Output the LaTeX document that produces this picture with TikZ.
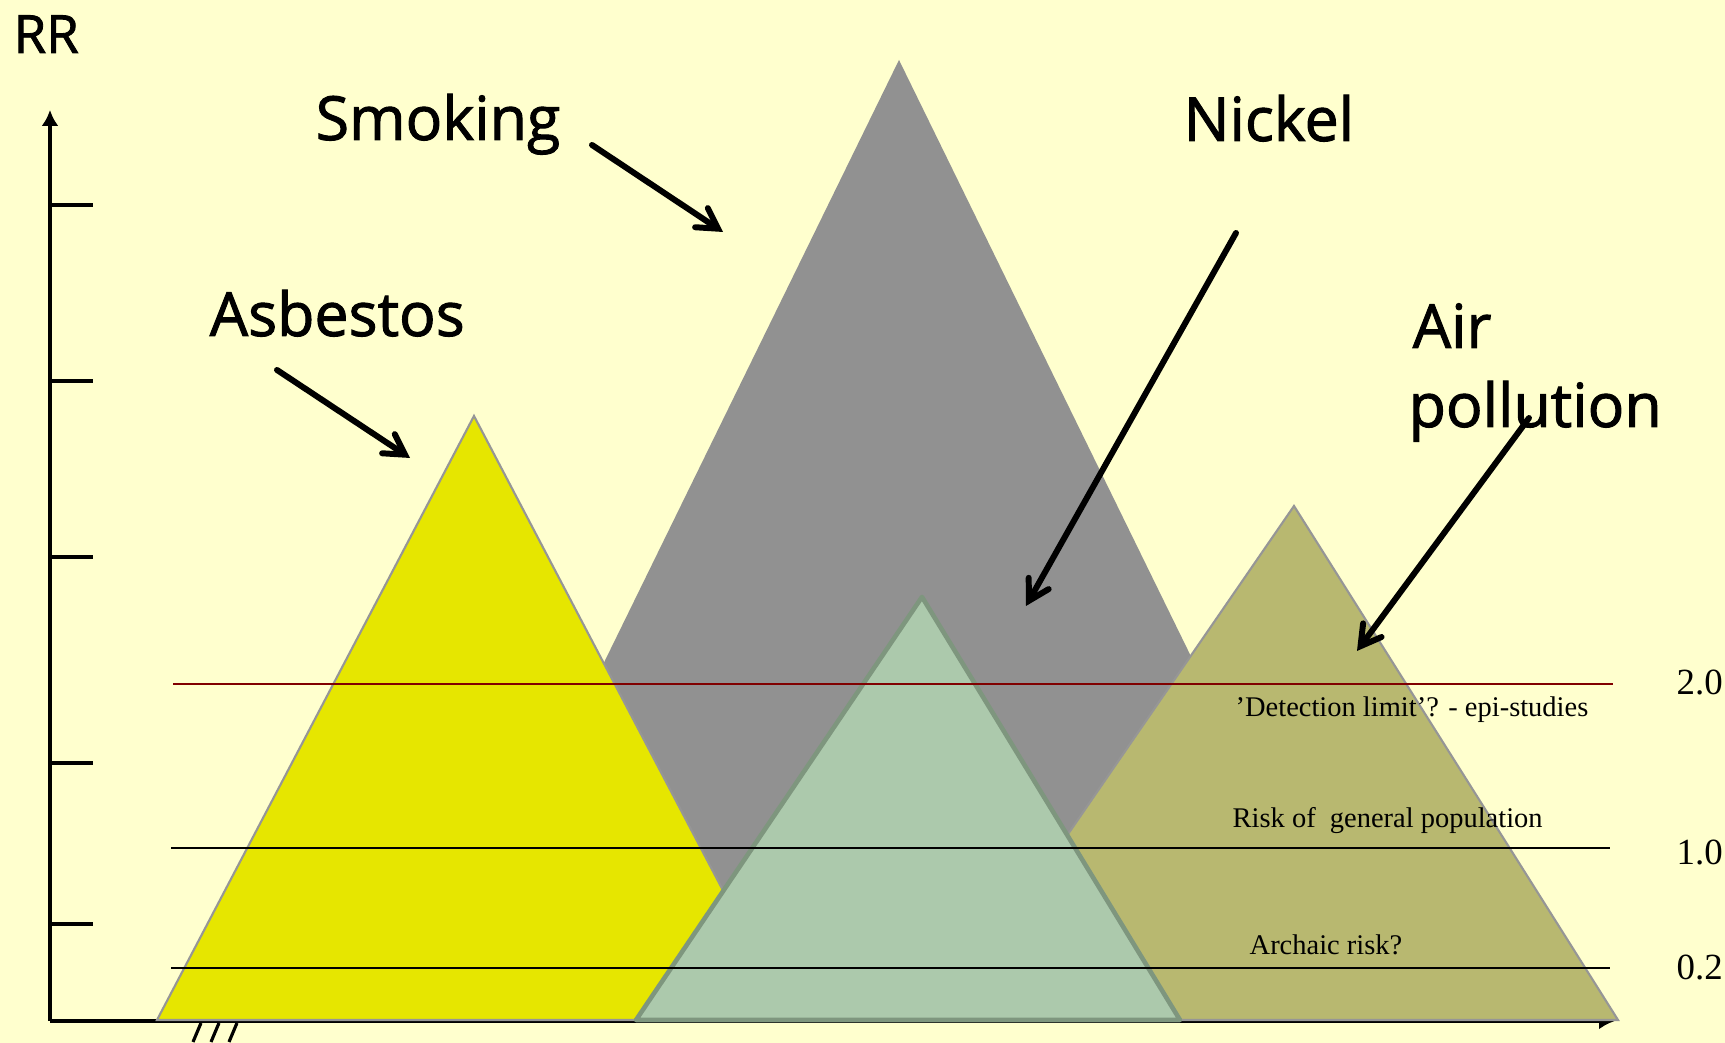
\documentclass[tikz,border=0pt]{standalone}
\usepackage{fontspec}
\setmainfont{Liberation Serif}
\newfontfamily\handfont[FakeBold=1.6]{Open Sans}
\usetikzlibrary{arrows}
\usetikzlibrary{arrows.meta}
\usetikzlibrary{calc}
\definecolor{paper}{RGB}{255,255,206}
\definecolor{asbyellow}{RGB}{230,230,0}
\definecolor{smkgray}{RGB}{145,145,145}
\definecolor{nickgreen}{RGB}{172,201,172}
\definecolor{nickedge}{RGB}{126,150,126}
\definecolor{airolive}{RGB}{184,184,112}
\definecolor{triedge}{RGB}{150,150,150}
\definecolor{limitred}{RGB}{128,0,0}

\begin{document}
\begin{tikzpicture} [
  bigname/.style={anchor=base west, inner sep=0, font=\handfont\fontsize{17.3}{22}\selectfont},
  note/.style={anchor=base west, inner sep=0, font=\fontsize{8.1}{10}\selectfont},
  rrval/.style={anchor=base west, inner sep=0, font=\fontsize{10.5}{12}\selectfont},
  pointer/.style={black, line width=1.7pt, line cap=round, ->, >=angle 60},
  level/.style={line width=.6pt}
]
\fill[paper] (0,0) rectangle (17.25,10.43);
\useasboundingbox (0,0) rectangle (17.25,10.43);

% axes
\coordinate (O) at (0.50,0.22);
\draw[black, line width=.9pt, -{Latex[length=1.6mm, width=1.7mm]}] (O)--(0.50,9.33);
\draw[black, line width=.9pt, -{Latex[length=1.6mm, width=1.7mm]}] (O)--(16.15,0.22);
\foreach \y in {8.38, 6.62, 4.86, 2.80, 1.19} {
 \draw[black, line width=.9pt] (0.50,\y) --++(0.43,0);
}
\foreach \x in {1.93, 2.11, 2.29} {
 \draw[black, line width=.9pt] (\x,0.01) --++(0.08,0.19);
}

% mountains
\fill[smkgray] (4.29,0.23) -- (8.99,9.83) -- (13.69,0.23) -- cycle;
\filldraw[fill=asbyellow, draw=triedge, line width=.6pt] (1.57,0.23) -- (4.74,6.27) -- (7.91,0.23) -- cycle;
\filldraw[fill=airolive, draw=triedge, line width=.6pt] (9.40,0.23) -- (12.94,5.37) -- (16.18,0.23) -- cycle;
\filldraw[fill=nickgreen, draw=nickedge, line width=1.3pt, line join=round] (6.36,0.23) -- (9.22,4.46) -- (11.80,0.23) -- cycle;

% risk levels
\draw[limitred, level] (1.73,3.59) -- (16.13,3.59);
\draw[black, level] (1.71,1.95) -- (16.10,1.95);
\draw[black, level] (1.71,0.75) -- (16.10,0.75);
\node[note] (detect) at (12.35,3.26) {’Detection limit’? - epi-studies};
\node[note] (general) at (12.32,2.15) {Risk of \ general population};
\node[note] (archaic) at (12.49,0.88) {Archaic risk?};
\node[rrval] (two) at (16.76,3.48) {2.0};
\node[rrval] (one) at (16.76,1.78) {1.0};
\node[rrval] (low) at (16.76,0.63) {0.2};

% names
\node[bigname, font=\handfont\fontsize{15}{18}\selectfont] (rr) at (0.13,9.90) {RR};
\node[bigname] (smoking) at (3.15,9.03) {Smoking};
\node[bigname] (nickel) at (11.83,9.02) {Nickel};
\node[bigname] (asbestos) at (2.09,7.07) {Asbestos};
\node[bigname] (air) at (14.12,6.95) {Air};
\node[bigname] (pollution) at (14.08,6.16) {pollution};

% pointers
\coordinate (smk-a) at (5.92,8.98);
\coordinate (smk-b) at (7.23,8.11);
\coordinate (asb-a) at (2.77,6.73);
\coordinate (asb-b) at (4.10,5.85);
\coordinate (nic-a) at (12.36,8.10);
\coordinate (nic-b) at (10.26,4.37);
\coordinate (air-a) at (15.29,6.25);
\coordinate (air-b) at (13.57,3.92);
\draw[pointer] (smk-a) -- (smk-b);
\draw[pointer] (asb-a) -- (asb-b);
\draw[pointer] (nic-a) -- (nic-b);
\draw[pointer] (air-a) -- (air-b);
\end{tikzpicture}
\end{document}
